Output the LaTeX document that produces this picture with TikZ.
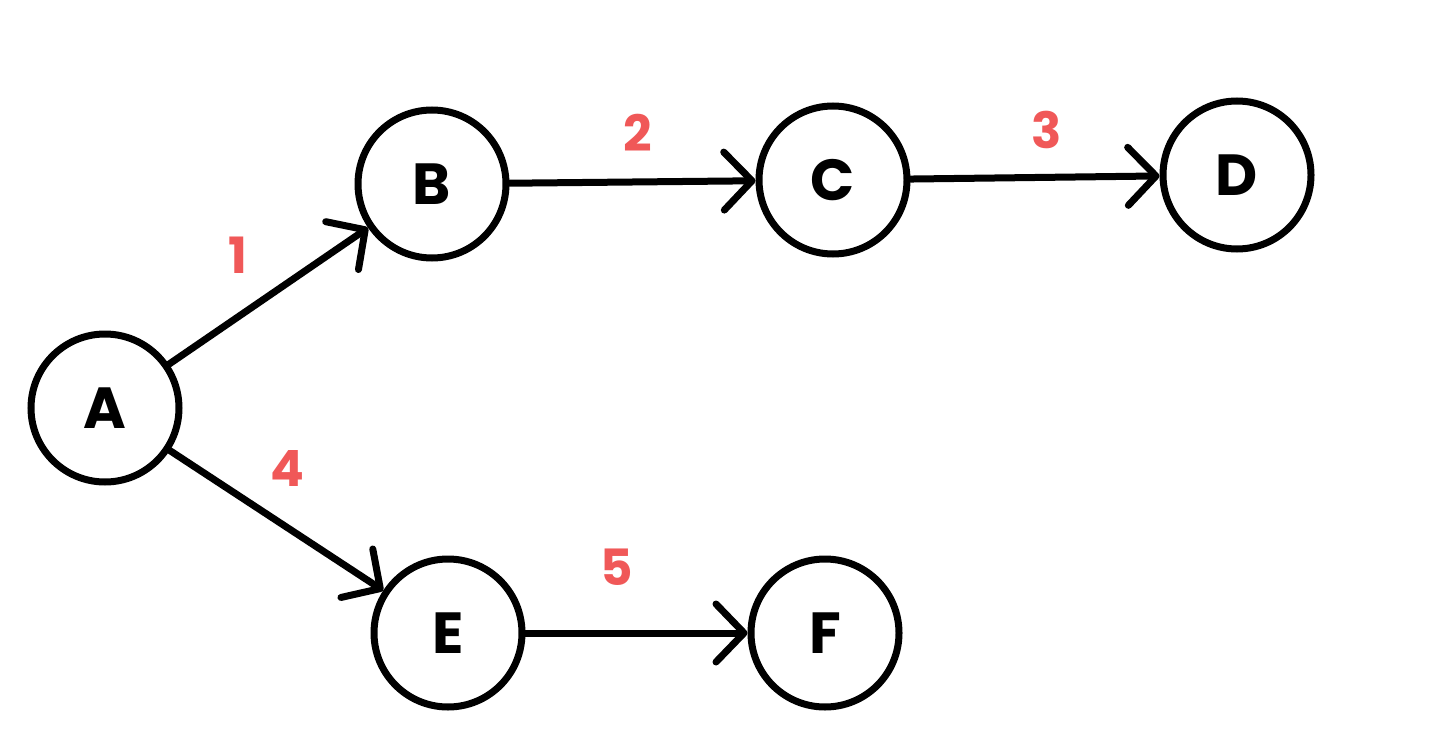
\documentclass[tikz,border=0pt]{standalone}
\usepackage{fontspec}
\setmainfont{Poppins}
\usetikzlibrary{arrows.meta}
\definecolor{lblred}{RGB}{240,88,88}
\begin{document}
\begin{tikzpicture}[x=1pt,y=-1pt,
  vertex/.style={circle,draw=black,line width=7pt,minimum size=148pt,inner sep=0pt,font=\fontsize{58}{60}\selectfont\bfseries},
  edge/.style={line width=7pt,line cap=round,-{Straight Barb[length=28pt,width=58pt,round]}},
  wlabel/.style={text=lblred,font=\fontsize{50}{52}\selectfont\bfseries}]
\useasboundingbox (0,0) rectangle (1440,733);
\fill[white] (0,0) rectangle (1440,733);
\node[vertex] (A) at (105,408) {A};
\node[vertex] (B) at (432,184) {B};
\node[vertex] (C) at (833,180) {C};
\node[vertex] (D) at (1237,175) {D};
\node[vertex] (E) at (448,633) {E};
\node[vertex] (F) at (825,633) {F};
\draw[edge] (A) -- (B);
\draw[edge] (B) -- (C);
\draw[edge] (C) -- (D);
\draw[edge] (A) -- (E);
\draw[edge] (E) -- (F);
\node[wlabel] (l1) at (238,255) {1};
\node[wlabel] (l2) at (638,133) {2};
\node[wlabel] (l3) at (1047,130) {3};
\node[wlabel] (l4) at (287,468) {4};
\node[wlabel] (l5) at (617,567) {5};
\end{tikzpicture}
\end{document}
